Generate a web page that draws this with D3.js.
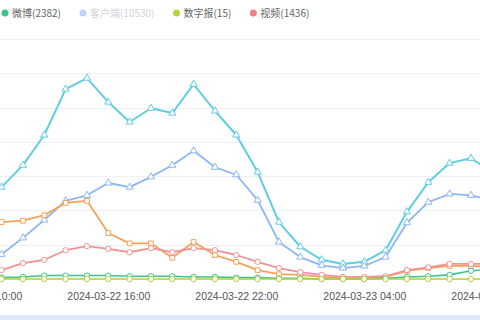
<!DOCTYPE html>
<html>
<head>
<meta charset="utf-8">
<script src="https://cdn.jsdelivr.net/npm/d3@7"></script>
<style>
  body { margin: 0; background: #fff; }
  svg { display: block; font-family: "Noto Sans CJK SC", "Noto Sans", sans-serif; }
</style>
</head>
<body>
<div id="chart"></div>
<script>
// Data -----------------------------------------------------------------
// hourly points, 2024-03-22 10:00 .. 2024-03-23 10:00
var hours = ["2024-03-22 10:00", "2024-03-22 11:00", "2024-03-22 12:00", "2024-03-22 13:00",
  "2024-03-22 14:00", "2024-03-22 15:00", "2024-03-22 16:00", "2024-03-22 17:00",
  "2024-03-22 18:00", "2024-03-22 19:00", "2024-03-22 20:00", "2024-03-22 21:00",
  "2024-03-22 22:00", "2024-03-22 23:00", "2024-03-23 00:00", "2024-03-23 01:00",
  "2024-03-23 02:00", "2024-03-23 03:00", "2024-03-23 04:00", "2024-03-23 05:00",
  "2024-03-23 06:00", "2024-03-23 07:00", "2024-03-23 08:00", "2024-03-23 09:00",
  "2024-03-23 10:00"];

var tickHours = ["2024-03-22 10:00", "2024-03-22 16:00", "2024-03-22 22:00",
  "2024-03-23 04:00", "2024-03-23 10:00"];

var cyanValues   = [125, 134, 166, 210, 277, 293, 258, 229, 249, 242, 284, 245, 210, 156, 83, 47, 28, 22, 25, 42, 98, 141, 169, 176, 156];
var blueValues   = [25, 36, 60, 86, 114, 122, 140, 134, 149, 166, 187, 163, 152, 115, 54, 32, 20, 16, 19, 32, 82, 112, 124, 122, 115];
var orangeValues = [85, 83, 85, 93, 111, 114, 67, 52, 52, 31, 54, 35, 25, 13, 7, 6, 3, 1, 1, 3, 12, 16, 19, 19, 18];
var redValues    = [8, 13, 23, 28, 42, 48, 44, 39, 45, 39, 45, 42, 35, 25, 16, 10, 6, 3, 3, 4, 13, 17, 22, 22, 22];
var greenValues  = [1, 2, 3, 5, 5, 5, 5, 4, 4, 4, 3, 3, 2, 2, 1, 1, 0, 0, 0, 1, 3, 4, 6, 12, 14];
var limeValues   = [0, 0, 0, 0, 0, 0, 0, 0, 0, 0, 0, 0, 0, 0, 0, 0, 0, 0, 0, 0, 0, 0, 0, 0, 0];

var legendNames  = ["微博(2382)", "客户端(10530)", "数字报(15)", "视频(1436)"];
var legendColors = ["#3dc48f", "#bcd6fb", "#b8d43a", "#f27d84"];
var legendOff    = [false, true, false, false];

var yTicks = [0, 50, 100, 150, 200, 250, 300, 350];

// Layout ---------------------------------------------------------------
var width = 480, height = 320;
var parseT = d3.timeParse("%Y-%m-%d %H:%M");
var times = hours.map(parseT);

var svg = d3.select("#chart").append("svg")
    .attr("width", width)
    .attr("height", height);

// chart is wider than the window; only the middle part shows
var x = d3.scaleTime()
    .domain([times[0], times[times.length - 1]])
    .range([-19.7, 492.3]);

var y = d3.scaleLinear()
    .domain([0, 350])
    .range([279, 39]);

// grid lines
svg.append("g")
    .selectAll("line")
    .data(yTicks)
    .enter().append("line")
    .attr("x1", 0)
    .attr("x2", width)
    .attr("y1", function (d) { return Math.round(y(d)) + 0.5; })
    .attr("y2", function (d) { return Math.round(y(d)) + 0.5; })
    .attr("stroke", "#eef0f3")
    .attr("stroke-width", 1);

// x axis
var xAxis = svg.append("g")
    .attr("transform", "translate(0," + y(0) + ")")
    .call(d3.axisBottom(x)
        .tickValues(tickHours.map(parseT))
        .tickSize(0)
        .tickPadding(14)
        .tickFormat(d3.timeFormat("%Y-%m-%d %H:%M")));
xAxis.select(".domain").attr("stroke", "#e0e6ee");
xAxis.selectAll("text")
    .attr("fill", "#555")
    .style("font-size", "10.5px")
    .style("font-family", "'Liberation Sans', 'DejaVu Sans', sans-serif");

// Series ---------------------------------------------------------------
var series = [
    { values: cyanValues,   color: "#5fcde2", width: 2,   symbol: d3.symbolTriangle },
    { values: blueValues,   color: "#8db6f4", width: 1.8, symbol: d3.symbolTriangle },
    { values: orangeValues, color: "#f3a25a", width: 1.8, symbol: d3.symbolSquare },
    { values: redValues,    color: "#f29393", width: 1.8, symbol: d3.symbolCircle },
    { values: greenValues,  color: "#3dc48f", width: 1.6, symbol: d3.symbolCircle },
    { values: limeValues,   color: "#b8d43a", width: 1.6, symbol: d3.symbolCircle }
];

var line = d3.line()
    .x(function (d) { return x(d.t); })
    .y(function (d) { return y(d.v); });

series.forEach(function (s) {
    var pts = s.values.map(function (v, i) { return { t: times[i], v: v }; });
    var g = svg.append("g");
    g.append("path")
        .datum(pts)
        .attr("fill", "none")
        .attr("stroke", s.color)
        .attr("stroke-width", s.width)
        .attr("stroke-linejoin", "round")
        .attr("d", line);
    g.selectAll("path.pt")
        .data(pts)
        .enter().append("path")
        .attr("class", "pt")
        .attr("transform", function (d) { return "translate(" + x(d.t) + "," + y(d.v) + ")"; })
        .attr("d", d3.symbol().type(s.symbol).size(22))
        .attr("fill", "#fff")
        .attr("stroke", s.color)
        .attr("stroke-width", 1);
});

// Legend ---------------------------------------------------------------
var legend = svg.append("g").attr("transform", "translate(0,13)");
var lx = 5;
legendNames.forEach(function (name, i) {
    var item = legend.append("g").attr("transform", "translate(" + lx + ",0)");
    item.append("circle")
        .attr("r", 3.5)
        .attr("fill", legendColors[i]);
    var t = item.append("text")
        .attr("x", 7)
        .attr("dy", "0.35em")
        .attr("fill", legendOff[i] ? "#cfd3d8" : "#666")
        .style("font-size", "10px")
        .text(name);
    lx += 7 + t.node().getComputedTextLength() + 22;
});

// slider strip along the bottom
svg.append("rect")
    .attr("x", 0)
    .attr("y", 315)
    .attr("width", width)
    .attr("height", 5)
    .attr("fill", "#dde9f7");
</script>
</body>
</html>
